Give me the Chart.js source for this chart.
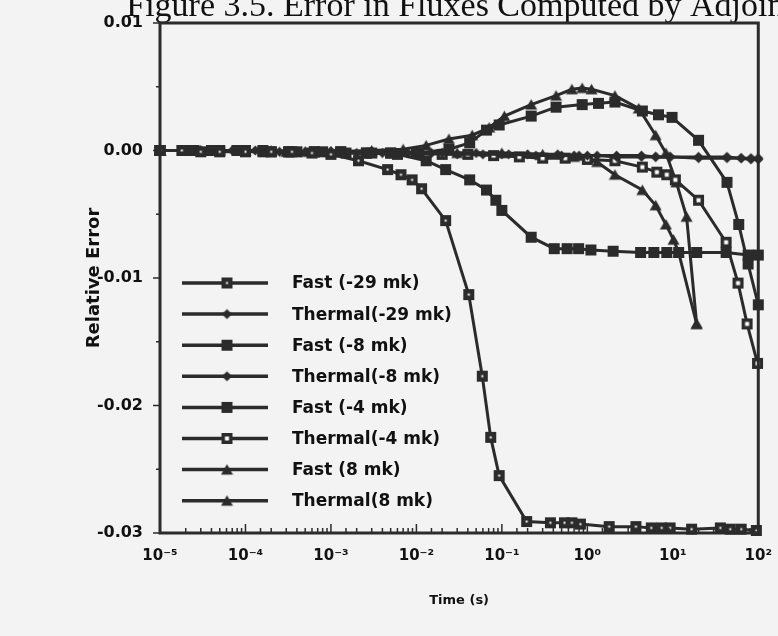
<!DOCTYPE html>
<html>
<head>
<meta charset="utf-8">
<script src="https://cdn.jsdelivr.net/npm/chart.js@4.4.1/dist/chart.umd.min.js"></script>
<style>
  html, body { margin: 0; padding: 0; background: #f3f3f3; }
</style>
</head>
<body>
<canvas id="chart" width="778" height="636"></canvas>
<script>
// series labels (legend order)
const seriesLabels = ['Fast (-29 mk)', 'Thermal(-29 mk)', 'Fast (-8 mk)', 'Thermal(-8 mk)',
                      'Fast (-4 mk)', 'Thermal(-4 mk)', 'Fast (8 mk)', 'Thermal(8 mk)'];

// time (s) and relative error
const fast29T = [1e-5, 1.8e-5, 3e-5, 5e-5, 1e-4, 2e-4, 3.5e-4, 6e-4, 1e-3, 2.1e-3, 4.6e-3, 6.6e-3, 8.9e-3, 1.15e-2,
                 2.2e-2, 4.1e-2, 5.9e-2, 7.4e-2, 9.3e-2, 0.195, 0.37, 0.54, 0.66, 0.83, 1.8, 3.7, 5.6, 7.4, 9.3, 16.6, 36, 47, 63, 95];
const fast29E = [0, 0, -0.0001, -0.0001, -0.0001, -0.0001, -0.0001, -0.0002, -0.0003, -0.0008, -0.0015, -0.0019, -0.0023, -0.003,
                 -0.0055, -0.0113, -0.0177, -0.0225, -0.0255, -0.0291, -0.0292, -0.0292, -0.0292, -0.0293, -0.0295, -0.0295, -0.0296, -0.0296, -0.0296, -0.0297, -0.0296, -0.0297, -0.0297, -0.0298];

const therm29T = [1e-5, 2e-5, 4e-5, 7e-5, 1.3e-4, 2.5e-4, 5e-4, 1e-3, 2e-3, 4e-3, 8e-3, 1.5e-2, 3e-2, 6e-2, 0.12, 0.25, 0.5, 0.8,
                  1.3, 2.2, 4.3, 6.3, 9.3, 20, 43, 63, 82, 100];
const therm29E = [0, 0, 0, 0, 0, -0.0001, -0.0001, -0.0001, -0.0002, -0.0002, -0.0002, -0.0002, -0.0003, -0.0003, -0.0003, -0.0004, -0.0004, -0.0004,
                  -0.0004, -0.0005, -0.0005, -0.0005, -0.0005, -0.0006, -0.0006, -0.0006, -0.0007, -0.0007];

const fast8nT = [1e-5, 2.5e-5, 5e-5, 1e-4, 2e-4, 4e-4, 8e-4, 1.5e-3, 3e-3, 6e-3, 1.3e-2, 2.2e-2, 4.2e-2, 6.6e-2, 8.5e-2, 0.1,
                 0.22, 0.41, 0.58, 0.79, 1.1, 2, 4.2, 6, 8.5, 11.7, 19, 42, 76, 100];
const fast8nE = [0, 0, 0, 0, -0.0001, -0.0001, -0.0001, -0.0002, -0.0002, -0.0003, -0.0008, -0.0015, -0.0023, -0.0031, -0.0039, -0.0047,
                 -0.0068, -0.0077, -0.0077, -0.0077, -0.0078, -0.0079, -0.008, -0.008, -0.008, -0.008, -0.008, -0.008, -0.0082, -0.0082];

const therm8nT = [1e-5, 3e-5, 1e-4, 3e-4, 1e-3, 3e-3, 1e-2, 2e-2, 5e-2, 0.1, 0.2, 0.45, 0.7, 1, 2.2, 4.3, 6.3, 9.3, 20, 43, 63, 82, 100];
const therm8nE = [0, 0, 0, -0.0001, -0.0001, -0.0001, -0.0002, -0.0002, -0.0002, -0.0003, -0.0003, -0.0003, -0.0004, -0.0004,
                  -0.0004, -0.0004, -0.0005, -0.0005, -0.0005, -0.0005, -0.0006, -0.0006, -0.0006];

const fast4nT = [1e-5, 2e-5, 4e-5, 8e-5, 1.6e-4, 3.2e-4, 6.4e-4, 1.3e-3, 2.6e-3, 5e-3, 1.07e-2, 2.4e-2, 4.2e-2, 6.6e-2, 9.3e-2,
                 0.22, 0.43, 0.87, 1.35, 2.1, 4.4, 6.8, 9.8, 20, 43, 59, 76, 100];
const fast4nE = [0, 0, 0, 0, 0, -0.0001, -0.0001, -0.0001, -0.0002, -0.0002, -0.0002, 0.0001, 0.0006, 0.0016, 0.002,
                 0.0027, 0.0034, 0.0036, 0.0037, 0.0038, 0.0031, 0.0028, 0.0026, 0.0008, -0.0025, -0.0058, -0.0089, -0.0121];

const therm4nT = [1e-5, 2e-5, 4e-5, 8e-5, 1.6e-4, 3.2e-4, 6.4e-4, 1.3e-3, 2.6e-3, 5e-3, 1e-2, 2e-2, 4e-2, 8e-2, 0.16, 0.3, 0.55,
                  1, 2.1, 4.4, 6.5, 8.5, 10.7, 20, 42, 58, 74, 98];
const therm4nE = [0, 0, 0, 0, -0.0001, -0.0001, -0.0001, -0.0001, -0.0002, -0.0002, -0.0002, -0.0003, -0.0003, -0.0004, -0.0005, -0.0006, -0.0006,
                  -0.0007, -0.0008, -0.0013, -0.0017, -0.0019, -0.0023, -0.0039, -0.0072, -0.0104, -0.0136, -0.0167];

const fast8pT = [1e-5, 2e-5, 5e-5, 1e-4, 2e-4, 5e-4, 1e-3, 3e-3, 7e-3, 1.3e-2, 2.4e-2, 4.5e-2, 7.1e-2, 0.107, 0.22, 0.43, 0.66, 0.87,
                 1.12, 2.1, 4, 6.3, 8.3, 11, 14.5, 19];
const fast8pE = [0, 0, 0, 0, 0, -0.0001, -0.0001, 0, 0.0001, 0.0004, 0.0009, 0.0012, 0.0018, 0.0027, 0.0036, 0.0043, 0.0048, 0.0049,
                 0.0048, 0.0043, 0.0033, 0.0012, -0.0002, -0.0025, -0.0052, -0.0136];

const therm8pT = [1e-5, 3e-5, 1e-4, 3e-4, 1e-3, 3e-3, 1e-2, 3e-2, 0.1, 0.3, 0.7, 1.3, 2.1, 4.4, 6.3, 8.3, 10.2, 11.7, 19];
const therm8pE = [0, 0, 0, -0.0001, -0.0001, -0.0001, -0.0002, -0.0002, -0.0002, -0.0003, -0.0005, -0.0009, -0.0019, -0.0031, -0.0043,
                  -0.0058, -0.007, -0.008, -0.0136];

// y axis ticks every 0.005, labels on the 0.01 steps
const yTicks = [0.01, 0.0, -0.01, -0.02, -0.03];

const ink = '#2b2b2b';
const paper = '#f3f3f3';

function makeMarker(kind) {
    const c = document.createElement('canvas');
    c.width = 13; c.height = 13;
    const g = c.getContext('2d');
    g.fillStyle = ink;
    if (kind === 'tri') {
        g.beginPath(); g.moveTo(6.5, 1); g.lineTo(12.5, 11.5); g.lineTo(0.5, 11.5); g.closePath(); g.fill();
    } else if (kind === 'diamond') {
        g.beginPath(); g.moveTo(6.5, 1.5); g.lineTo(11.5, 6.5); g.lineTo(6.5, 11.5); g.lineTo(1.5, 6.5); g.closePath(); g.fill();
    } else {
        g.fillRect(1, 1, 11, 11);
        if (kind === 'dot') { g.fillStyle = '#ffffff'; g.fillRect(5.5, 5.5, 2, 2); }
        if (kind === 'hollow') { g.fillStyle = '#ffffff'; g.fillRect(4.5, 4.5, 4, 4); }
    }
    return c;
}

const markers = [makeMarker('dot'), makeMarker('diamond'), makeMarker('square'), makeMarker('diamond'),
                 makeMarker('square'), makeMarker('hollow'), makeMarker('tri'), makeMarker('tri')];

const times = [fast29T, therm29T, fast8nT, therm8nT, fast4nT, therm4nT, fast8pT, therm8pT];
const errors = [fast29E, therm29E, fast8nE, therm8nE, fast4nE, therm4nE, fast8pE, therm8pE];

const datasets = seriesLabels.map((label, i) => ({
    label: label,
    data: times[i].map((t, j) => ({ x: t, y: errors[i][j] })),
    showLine: true,
    borderColor: ink,
    backgroundColor: ink,
    borderWidth: 3,
    pointStyle: markers[i],
    pointRadius: 5,
    clip: false
}));

function isDecade(v) {
    const e = Math.log10(v);
    return Math.abs(e - Math.round(e)) < 1e-6;
}

const supDigits = { '-': '\u207B', '0': '\u2070', '1': '\u00B9', '2': '\u00B2', '3': '\u00B3', '4': '\u2074', '5': '\u2075' };

// background, ticks, frame, legend and the cut-off page caption
const decor = {
    id: 'decor',
    beforeDraw(chart) {
        const ctx = chart.ctx;
        ctx.save();
        ctx.fillStyle = paper;
        ctx.fillRect(0, 0, chart.width, chart.height);
        ctx.fillStyle = '#111';
        ctx.font = '34px "Liberation Serif"';
        ctx.textBaseline = 'alphabetic';
        const lead = ctx.measureText('Figure 3.5. ').width;
        ctx.fillText('Figure 3.5. Error in Fluxes Computed by Adjoint', 283 - lead, 16);
        ctx.restore();
    },
    afterDraw(chart) {
        const ctx = chart.ctx;
        const a = chart.chartArea;
        const xs = chart.scales.x, ys = chart.scales.y;
        ctx.save();
        ctx.strokeStyle = ink;
        ctx.lineWidth = 1.5;
        xs.ticks.forEach(t => {
            const px = xs.getPixelForValue(t.value);
            const len = isDecade(t.value) ? 9 : 5;
            ctx.beginPath(); ctx.moveTo(px, a.bottom); ctx.lineTo(px, a.bottom - len); ctx.stroke();
        });
        ys.ticks.forEach(t => {
            const py = ys.getPixelForValue(t.value);
            const len = Math.round(t.value * 200) % 2 === 0 ? 7 : 4;
            ctx.beginPath(); ctx.moveTo(a.left - len, py); ctx.lineTo(a.left, py); ctx.stroke();
        });
        ctx.lineWidth = 3;
        ctx.strokeRect(a.left, a.top, a.right - a.left, a.bottom - a.top);

        // legend
        ctx.font = 'bold 17px "DejaVu Sans"';
        ctx.textBaseline = 'middle';
        ctx.fillStyle = '#111';
        chart.data.datasets.forEach((d, i) => {
            const y = 283 + i * 31.1;
            ctx.lineWidth = 3.5;
            ctx.beginPath(); ctx.moveTo(182, y); ctx.lineTo(268, y); ctx.stroke();
            const m = markers[i];
            ctx.drawImage(m, 227 - m.width / 2, y - m.height / 2);
            ctx.fillText(d.label, 292, y + 1);
        });
        ctx.restore();
    }
};

const chart = new Chart(document.getElementById('chart'), {
    type: 'scatter',
    data: { datasets: datasets },
    plugins: [decor],
    options: {
        responsive: false,
        animation: false,
        devicePixelRatio: 1,
        layout: { padding: { top: 23, right: 18, left: 0, bottom: 0 } },
        plugins: { legend: { display: false }, tooltip: { enabled: false } },
        scales: {
            x: {
                type: 'logarithmic',
                min: 1e-5,
                max: 100,
                grid: { display: false },
                border: { display: false },
                afterFit: s => { s.height = 103; },
                ticks: {
                    autoSkip: false,
                    maxRotation: 0,
                    padding: 6,
                    color: '#111',
                    font: { family: 'DejaVu Sans', size: 15, weight: 'bold' },
                    callback: v => {
                        if (!isDecade(v)) return '';
                        const e = String(Math.round(Math.log10(v)));
                        return '10' + e.split('').map(c => supDigits[c]).join('');
                    }
                },
                title: {
                    display: true,
                    text: 'Time (s)',
                    color: '#111',
                    font: { family: 'DejaVu Sans', size: 13, weight: 'bold' },
                    padding: { top: 0, bottom: 28 }
                }
            },
            y: {
                min: -0.03,
                max: 0.01,
                grid: { display: false },
                border: { display: false },
                afterFit: s => { s.width = 160; },
                ticks: {
                    stepSize: 0.005,
                    padding: 9,
                    color: '#111',
                    font: { family: 'DejaVu Sans', size: 16, weight: 'bold' },
                    callback: v => {
                        const k = Math.round(v * 200);
                        if (k % 2 !== 0) return '';
                        const hit = yTicks.find(t => Math.abs(t - k / 200) < 1e-9);
                        if (hit === undefined) return '';
                        const s = hit.toFixed(2);
                        return s === '-0.00' ? '0.00' : s;
                    }
                },
                title: {
                    display: true,
                    text: 'Relative Error',
                    color: '#111',
                    font: { family: 'DejaVu Sans', size: 18, weight: 'bold' },
                    padding: { top: 84, bottom: 0 }
                }
            }
        }
    }
});
</script>
</body>
</html>
